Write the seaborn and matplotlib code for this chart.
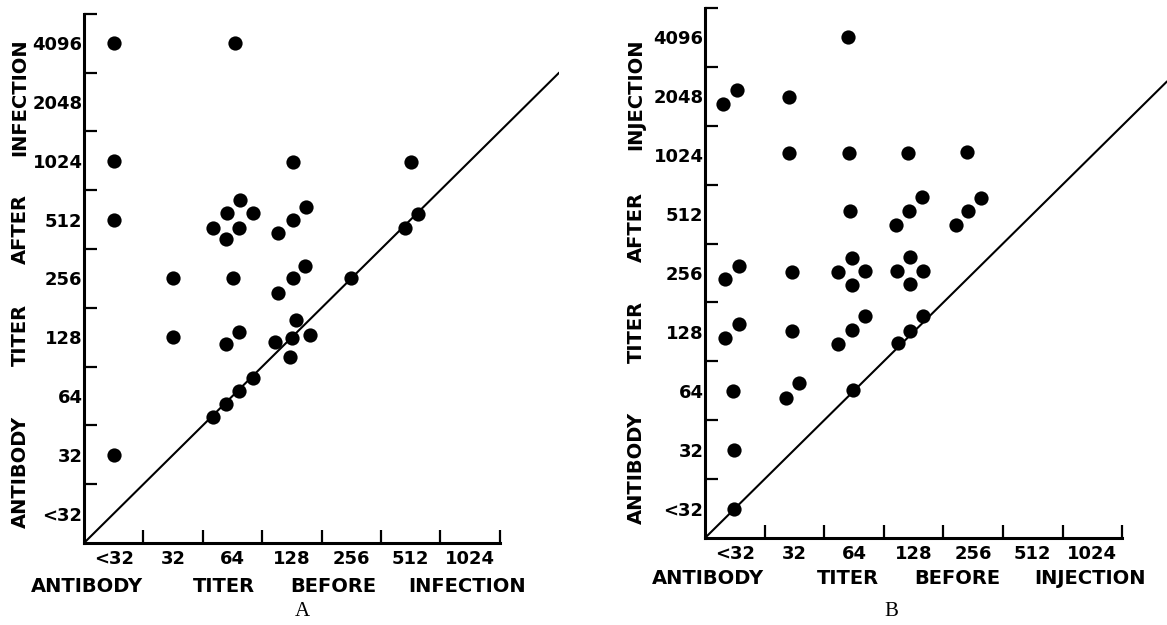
import matplotlib
matplotlib.use("Agg")
import matplotlib.pyplot as plt
import seaborn as sns

# titer classes (one bin per class, log2 steps)
before_labels = ["<32", "32", "64", "128", "256", "512", "1024"]
after_labels = ["<32", "32", "64", "128", "256", "512", "1024", "2048", "4096"]

# panel A - infection; positions in bin units
a_before = [0.50, 2.55, 0.50, 3.52, 5.50, 0.50, 2.63, 2.41, 2.85, 2.17, 2.61, 2.39,
            3.27, 3.52, 3.74, 5.40, 5.62, 1.50, 2.50, 3.52, 3.27, 3.72, 4.50, 3.57,
            1.50, 2.39, 2.61, 3.22, 3.50, 3.47, 3.80, 2.17, 2.39, 2.61, 2.85, 0.50]
a_after = [8.50, 8.50, 6.50, 6.48, 6.48, 5.50, 5.83, 5.61, 5.61, 5.36, 5.36, 5.17,
           5.27, 5.49, 5.71, 5.36, 5.60, 4.50, 4.50, 4.50, 4.25, 4.71, 4.50, 3.79,
           3.50, 3.38, 3.59, 3.42, 3.49, 3.16, 3.54, 2.14, 2.36, 2.58, 2.81, 1.50]

# panel B - injection
b_before = [2.40, 0.54, 0.30, 1.41, 1.41, 2.42, 3.41, 4.40, 2.43, 3.64, 3.42, 3.20,
            4.63, 4.41, 4.21, 0.57, 0.34, 1.46, 2.47, 2.23, 2.68, 2.47, 3.44, 3.22,
            3.66, 3.44, 2.68, 3.65, 0.57, 0.34, 1.46, 2.23, 2.47, 3.44, 3.24, 0.47,
            1.36, 1.58, 2.48, 0.49, 0.49]
b_after = [8.50, 7.61, 7.37, 7.49, 6.54, 6.54, 6.54, 6.55, 5.55, 5.79, 5.55, 5.31,
           5.77, 5.55, 5.31, 4.62, 4.40, 4.52, 4.75, 4.52, 4.53, 4.30, 4.77, 4.53,
           4.53, 4.31, 3.77, 3.77, 3.63, 3.40, 3.51, 3.29, 3.53, 3.51, 3.31, 2.50,
           2.38, 2.63, 2.51, 1.49, 0.49]

sns.set_style("ticks")
plt.rcParams["font.family"] = ["DejaVu Sans"]
plt.rcParams["text.color"] = "black"
plt.rcParams["xtick.color"] = "black"
plt.rcParams["ytick.color"] = "black"

W, H = 1167, 625
fig = plt.figure(figsize=(W / 100, H / 100), dpi=100)


def px_rect(left, bottom, right, top):
    return [left / W, 1 - bottom / H, (right - left) / W, (bottom - top) / H]


def style_panel(ax, xmax):
    ax.set_xlim(0, xmax)
    ax.set_ylim(0, 9)
    sns.despine(ax=ax)
    ax.spines["bottom"].set_bounds(0, 7)
    ax.spines["left"].set_bounds(0, 9)
    for s in ("left", "bottom"):
        ax.spines[s].set_linewidth(2.2)
        ax.spines[s].set_color("black")
    ax.set_xticks(range(1, 8))
    ax.set_yticks(range(1, 10))
    ax.set_xticklabels([])
    ax.set_yticklabels([])
    ax.set_xticks([i + 0.5 for i in range(len(before_labels))], minor=True)
    ax.set_xticklabels(before_labels, minor=True, fontsize=13, fontweight="bold")
    ax.set_yticks([i + 0.5 for i in range(len(after_labels))], minor=True)
    ax.set_yticklabels(after_labels, minor=True, fontsize=13, fontweight="bold")
    ax.tick_params(which="major", direction="in", length=9.5, width=1.6, color="black")
    ax.tick_params(which="minor", length=0, labelcolor="black")
    ax.tick_params(axis="x", which="minor", pad=5)
    ax.tick_params(axis="y", which="minor", pad=1)
    ax.set_xlabel("")
    ax.set_ylabel("")
    ax.axline((0, 0), slope=1, color="black", linewidth=1.5)


ax_a = fig.add_axes(px_rect(84, 543, 84 + 8.0 * 59.4, 543 - 9 * 58.8))
sns.scatterplot(x=a_before, y=a_after, ax=ax_a, color="black", s=105,
                linewidth=0, clip_on=False)
style_panel(ax_a, 8.0)

ax_b = fig.add_axes(px_rect(705, 538, 1167, 538 - 9 * 58.9))
sns.scatterplot(x=b_before, y=b_after, ax=ax_b, color="black", s=105,
                linewidth=0, clip_on=False)
style_panel(ax_b, (1167 - 705) / 59.6)


def word(x, y, s, rot=0):
    fig.text(x / W, 1 - y / H, s, rotation=rot, ha="center", va="center",
             fontsize=14, fontweight="bold", color="black")


# axis titles, word by word as spaced on the original
for x, s in [(87, "ANTIBODY"), (224, "TITER"), (333, "BEFORE"), (467, "INFECTION")]:
    word(x, 586, s)
for y, s in [(472, "ANTIBODY"), (335, "TITER"), (229, "AFTER"), (97, "INFECTION")]:
    word(20, y, s, 90)
for x, s in [(708, "ANTIBODY"), (848, "TITER"), (957, "BEFORE"), (1090, "INJECTION")]:
    word(x, 579, s)
for y, s in [(468, "ANTIBODY"), (332, "TITER"), (227, "AFTER"), (94, "INJECTION")]:
    word(636, y, s, 90)

fig.text(302 / W, 1 - 612 / H, "A", ha="center", va="center", fontsize=15,
         family="Liberation Serif", color="black")
fig.text(891 / W, 1 - 611 / H, "B", ha="center", va="center", fontsize=15,
         family="Liberation Serif", color="black")

fig.savefig("out.png", dpi=100)
